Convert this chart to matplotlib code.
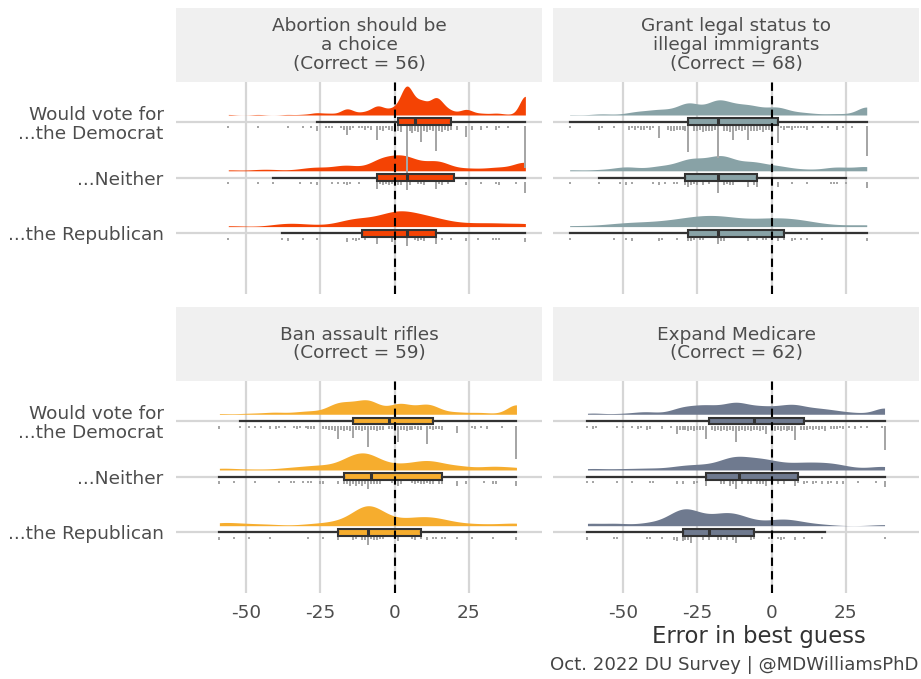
import numpy as np
import matplotlib.pyplot as plt

# error = guess - correct answer; (error, number of respondents)
abortion_dem = [(-56, 1), (-46, 1), (-36, 1), (-31, 1), (-28, 1), (-26, 3), (-23, 1), (-22, 1), (-21, 1),
                (-18, 1), (-17, 2), (-16, 6), (-15, 2), (-14, 1), (-12, 1), (-11, 1), (-10, 2), (-9, 1),
                (-8, 2), (-6, 10), (-5, 2), (-4, 3), (-3, 1), (-2, 2), (-1, 3), (0, 3), (1, 3), (2, 4),
                (4, 40), (5, 3), (6, 5), (7, 3), (8, 4), (9, 12), (10, 3), (11, 4), (12, 2), (13, 3),
                (14, 19), (15, 3), (16, 4), (17, 2), (18, 3), (19, 2), (21, 2), (24, 8), (26, 2), (29, 2),
                (31, 1), (34, 2), (35, 1), (38, 1), (44, 33)]
abortion_nei = [(-56, 1), (-46, 1), (-41, 1), (-32, 1), (-28, 1), (-26, 2), (-21, 1), (-19, 1), (-17, 1),
                (-16, 2), (-15, 1), (-12, 1), (-6, 5), (-5, 1), (-4, 2), (-3, 1), (-2, 2), (-1, 1), (0, 2),
                (1, 2), (2, 2), (4, 6), (5, 2), (8, 1), (9, 1), (10, 2), (14, 5), (15, 1), (16, 2), (18, 1),
                (24, 2), (29, 1), (34, 1), (35, 2), (41, 1), (44, 8)]
abortion_rep = [(-56, 1), (-38, 1), (-36, 2), (-31, 1), (-26, 1), (-16, 3), (-14, 1), (-13, 2), (-12, 1),
                (-10, 1), (-6, 4), (-1, 3), (0, 6), (4, 6), (7, 1), (8, 2), (9, 1), (10, 2), (14, 4),
                (16, 1), (19, 1), (24, 2), (28, 1), (33, 1), (34, 1), (35, 1), (44, 3)]

grant_dem = [(-68, 1), (-58, 2), (-57, 1), (-53, 1), (-48, 2), (-47, 1), (-46, 2), (-45, 1), (-44, 2),
             (-43, 2), (-42, 1), (-41, 2), (-40, 1), (-38, 9), (-35, 2), (-34, 3), (-33, 3), (-32, 2),
             (-31, 2), (-30, 2), (-29, 3), (-28, 20), (-26, 3), (-25, 3), (-24, 2), (-23, 4), (-22, 3),
             (-21, 3), (-20, 3), (-19, 2), (-18, 25), (-16, 3), (-15, 3), (-14, 4), (-13, 10), (-12, 3),
             (-11, 2), (-10, 3), (-9, 2), (-8, 10), (-7, 3), (-6, 3), (-5, 3), (-4, 2), (-3, 4), (-2, 2),
             (-1, 2), (0, 2), (2, 13), (3, 1), (4, 2), (5, 1), (6, 1), (7, 2), (8, 1), (9, 1), (10, 1),
             (11, 1), (12, 2), (14, 1), (17, 1), (19, 1), (22, 2), (24, 1), (27, 1), (32, 23)]
grant_nei = [(-68, 1), (-58, 1), (-51, 1), (-49, 2), (-47, 1), (-40, 1), (-38, 2), (-36, 1), (-33, 1),
             (-32, 1), (-29, 2), (-28, 3), (-27, 2), (-26, 1), (-25, 2), (-23, 2), (-21, 1), (-18, 8),
             (-16, 2), (-15, 1), (-14, 2), (-13, 2), (-8, 3), (-6, 2), (-5, 3), (0, 1), (2, 3), (7, 1),
             (12, 1), (20, 1), (21, 1), (22, 1), (25, 1), (32, 4)]
grant_rep = [(-68, 1), (-53, 1), (-49, 1), (-47, 2), (-38, 2), (-37, 1), (-32, 1), (-28, 2), (-27, 2),
             (-26, 1), (-24, 1), (-23, 1), (-18, 4), (-17, 2), (-16, 2), (-8, 2), (-5, 1), (-3, 1),
             (-2, 1), (0, 1), (2, 2), (4, 1), (7, 2), (8, 1), (10, 1), (12, 1), (17, 1), (32, 2)]

rifles_dem = [(-59, 2), (-52, 1), (-49, 1), (-47, 1), (-45, 1), (-42, 2), (-40, 2), (-39, 1), (-37, 1),
              (-34, 1), (-33, 2), (-32, 1), (-30, 1), (-29, 2), (-28, 2), (-27, 2), (-24, 2), (-23, 2),
              (-22, 3), (-21, 3), (-20, 4), (-19, 10), (-18, 3), (-17, 4), (-16, 3), (-15, 4), (-14, 9),
              (-13, 3), (-12, 3), (-11, 4), (-10, 3), (-9, 17), (-8, 3), (-7, 3), (-6, 4), (-5, 3),
              (-4, 3), (-2, 2), (-1, 2), (0, 2), (1, 13), (2, 3), (3, 3), (4, 4), (5, 3), (6, 3), (7, 2),
              (8, 3), (9, 3), (11, 14), (12, 2), (13, 3), (14, 2), (15, 2), (16, 3), (21, 5), (26, 1),
              (27, 2), (29, 1), (31, 2), (36, 1), (41, 26)]
rifles_nei = [(-59, 2), (-54, 1), (-47, 1), (-39, 1), (-35, 1), (-34, 1), (-31, 1), (-29, 1), (-28, 1),
              (-25, 2), (-24, 2), (-19, 2), (-17, 2), (-16, 2), (-15, 3), (-14, 2), (-13, 3), (-12, 2),
              (-11, 3), (-10, 2), (-9, 6), (-8, 2), (-7, 2), (-6, 2), (-5, 2), (-1, 1), (1, 3), (2, 2),
              (6, 1), (7, 2), (8, 1), (9, 2), (10, 2), (11, 1), (12, 2), (13, 2), (15, 2), (16, 2),
              (21, 3), (24, 2), (30, 1), (33, 2), (34, 2), (41, 3)]
rifles_rep = [(-59, 2), (-54, 1), (-49, 1), (-42, 1), (-29, 1), (-24, 1), (-19, 2), (-14, 2), (-13, 1),
              (-11, 2), (-10, 2), (-9, 6), (-8, 1), (-7, 2), (-6, 2), (-5, 1), (-4, 1), (1, 3), (6, 1),
              (7, 2), (9, 1), (11, 2), (13, 1), (14, 1), (16, 1), (17, 1), (21, 1), (26, 1), (33, 1),
              (41, 2)]

medicare_dem = [(-62, 1), (-60, 2), (-59, 1), (-52, 1), (-50, 1), (-47, 1), (-45, 2), (-44, 1), (-42, 3),
                (-41, 2), (-37, 2), (-34, 1), (-32, 6), (-31, 3), (-30, 3), (-29, 3), (-28, 4), (-27, 3),
                (-26, 4), (-25, 3), (-24, 3), (-23, 3), (-22, 10), (-20, 3), (-19, 4), (-18, 3), (-17, 4),
                (-16, 3), (-15, 4), (-14, 3), (-13, 4), (-12, 13), (-11, 4), (-10, 3), (-9, 4), (-8, 3),
                (-7, 4), (-6, 3), (-5, 3), (-4, 4), (-3, 3), (-2, 6), (0, 3), (1, 4), (2, 3), (3, 4),
                (4, 3), (5, 4), (6, 3), (7, 4), (8, 11), (10, 3), (11, 3), (12, 3), (13, 2), (14, 3),
                (15, 2), (16, 3), (17, 2), (18, 4), (20, 2), (21, 2), (22, 2), (23, 1), (24, 2), (26, 1),
                (28, 2), (30, 1), (32, 1), (37, 1), (38, 19)]
medicare_nei = [(-62, 1), (-60, 1), (-52, 1), (-47, 1), (-41, 1), (-40, 1), (-32, 2), (-30, 2), (-26, 2),
                (-25, 1), (-22, 3), (-17, 2), (-16, 2), (-14, 3), (-13, 2), (-12, 6), (-10, 2), (-8, 2),
                (-7, 2), (-5, 2), (-4, 2), (-3, 2), (-2, 3), (0, 2), (2, 2), (4, 2), (8, 3), (9, 1),
                (11, 2), (12, 1), (14, 2), (15, 1), (17, 2), (19, 2), (20, 1), (22, 2), (24, 2), (29, 1),
                (35, 1), (38, 4)]
medicare_rep = [(-62, 2), (-53, 1), (-52, 1), (-42, 1), (-41, 1), (-37, 1), (-33, 2), (-32, 3), (-30, 3),
                (-29, 2), (-28, 2), (-27, 4), (-23, 2), (-21, 2), (-18, 2), (-17, 2), (-15, 2), (-13, 2),
                (-12, 4), (-7, 2), (-6, 1), (-1, 1), (2, 1), (3, 2), (4, 1), (8, 2), (11, 1), (17, 1),
                (38, 1)]

# boxplot stats per group: whisker low, q1, median, q3, whisker high
abortion_box = [[-26, 1, 7, 19, 44], [-41, -6, 4, 20, 44], [-38, -11, 4, 14, 44]]
grant_box = [[-68, -28, -18, 2, 32], [-58, -29, -18, -5, 25], [-68, -28, -18, 4, 32]]
rifles_box = [[-52, -14, -2, 13, 41], [-59, -17, -8, 16, 41], [-59, -19, -9, 9, 41]]
medicare_box = [[-62, -21, -6, 11, 38], [-62, -22, -11, 9, 38], [-62, -30, -21, -6, 18]]

groups = ["Would vote for\n...the Democrat", "...Neither", "...the Republican"]
x_ticks = [-50, -25, 0, 25]
# density smoothing per group (smaller groups get smoothed more)
bw_adjust = [0.5, 0.6, 0.75]

topics = [
    ("Abortion should be\na choice\n(Correct = 56)", "#F44304", [abortion_dem, abortion_nei, abortion_rep], abortion_box),
    ("Grant legal status to\nillegal immigrants\n(Correct = 68)", "#88A2A6", [grant_dem, grant_nei, grant_rep], grant_box),
    ("Ban assault rifles\n(Correct = 59)", "#F6AD2E", [rifles_dem, rifles_nei, rifles_rep], rifles_box),
    ("Expand Medicare\n(Correct = 62)", "#6F7A8F", [medicare_dem, medicare_nei, medicare_rep], medicare_box),
]

TEXT = "#4D4D4D"
GRID = "#D6D6D6"
W, H = 921, 679
fig = plt.figure(figsize=(W / 100, H / 100), dpi=100)


def px_axes(x0, y0, x1, y1):
    return fig.add_axes([x0 / W, 1 - y1 / H, (x1 - x0) / W, (y1 - y0) / H])


def trimmed_kde(vals, counts, grid, bw):
    # plain gaussian kde, drawn only over the range of the data
    d = np.zeros_like(grid)
    for v, c in zip(vals, counts):
        d += c * np.exp(-0.5 * ((grid - v) / bw) ** 2)
    return d / (counts.sum() * bw * np.sqrt(2 * np.pi))


def bandwidth(vals, counts, adjust):
    data = np.repeat(vals, counts.astype(int))
    sd = data.std(ddof=1)
    iqr = np.subtract(*np.percentile(data, [75, 25]))
    return adjust * 0.9 * min(sd, iqr / 1.34) * len(data) ** -0.2


# compute densities first so they share one height scale
dens = []
for title, color, rows, box in topics:
    d_rows = []
    for i, row in enumerate(rows):
        vals = np.array([r[0] for r in row], float)
        cnts = np.array([r[1] for r in row], float)
        grid = np.linspace(vals.min(), vals.max(), 400)
        bw = bandwidth(vals, cnts, bw_adjust[i])
        d_rows.append((grid, trimmed_kde(vals, cnts, grid, bw), vals, cnts.astype(int)))
    dens.append(d_rows)
peak = max(d.max() for rows in dens for _, d, _, _ in rows)
height = 0.52 / peak

cols = [(176, 542), (553, 919)]
rows_px = [((8, 81.7), (81.7, 294)), ((307, 381), (381, 593))]

for k, (title, color, rows, box) in enumerate(topics):
    r, c = divmod(k, 2)
    (sy0, sy1), (py0, py1) = rows_px[r]
    x0, x1 = cols[c]

    sax = px_axes(x0, sy0, x1, sy1)
    sax.set_facecolor("#F0F0F0")
    sax.set_xticks([])
    sax.set_yticks([])
    for s in sax.spines.values():
        s.set_visible(False)
    sax.text(0.5, 0.5, title, ha="center", va="center", fontsize=13.3, color=TEXT,
             linespacing=1.05, transform=sax.transAxes)

    ax = px_axes(x0, py0, x1, py1)
    ax.set_xlim(-73.6, 49.6)
    ax.set_ylim(3.088, -0.717)
    ax.set_xticks(x_ticks)
    ax.set_xticklabels([str(t) for t in x_ticks])
    ax.set_yticks(range(len(groups)))
    ax.set_yticklabels(groups, linespacing=1.1)
    ax.grid(True, color=GRID, lw=1.6, zorder=0)
    ax.set_axisbelow(True)
    for s in ax.spines.values():
        s.set_visible(False)
    ax.tick_params(length=0, labelsize=13.3, labelcolor=TEXT, pad=9)
    ax.tick_params(axis="x", pad=8)
    if r == 0:
        ax.tick_params(labelbottom=False)
    if c == 1:
        ax.tick_params(labelleft=False)

    for i, (grid, d, vals, cnts) in enumerate(dens[k]):
        base = i - 0.12
        ax.fill_between(grid, base, base - d * height, color=color, lw=0, zorder=2)
        xs, ys = [], []
        for v, n in zip(vals, cnts):
            for j in range(n):
                xs.append(v)
                ys.append(i + 0.1 + j * 0.0224)
        ax.scatter(xs, ys, s=2.8, marker="s", color="#A6A6A6", lw=0, zorder=2.5)

    stats = [dict(whislo=b[0], q1=b[1], med=b[2], q3=b[3], whishi=b[4], fliers=[]) for b in box]
    ax.bxp(stats, positions=range(len(groups)), widths=0.12, orientation="horizontal",
           patch_artist=True, showfliers=False, showcaps=False, manage_ticks=False,
           boxprops=dict(facecolor=color, edgecolor="#333333", lw=1.5),
           whiskerprops=dict(color="#333333", lw=1.6),
           medianprops=dict(color="#333333", lw=2.2), zorder=3)

    ax.axvline(0, color="black", lw=1.5, ls=(0, (4, 2.5)), zorder=4)

fig.text(866 / W, 1 - 636 / H, "Error in best guess", ha="right", va="center", fontsize=16.4, color="#333333")
fig.text(918 / W, 1 - 665 / H, "Oct. 2022 DU Survey | @MDWilliamsPhD", ha="right", va="center",
         fontsize=13.1, color="#444444")

fig.savefig("out.png", dpi=100)
